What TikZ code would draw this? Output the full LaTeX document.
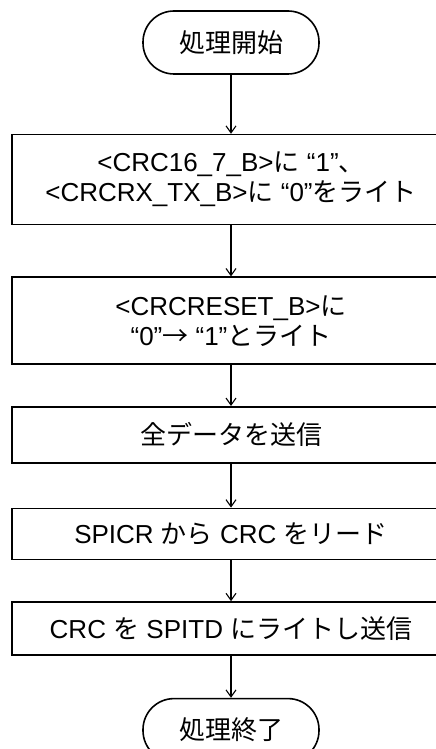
\documentclass[tikz,border=0pt]{standalone}
\usepackage{fontspec}
\setmainfont{Liberation Sans}
\newfontfamily\jpfont{Noto Sans CJK JP}
\newcommand{\jp}[1]{{\jpfont #1}}
\usetikzlibrary{arrows.meta, positioning}

\begin{document}
\begin{tikzpicture}[x=1pt, y=1pt,
        every node/.style={align=center, font=\fontsize{26}{30}\selectfont},
        term/.style={draw, line width=1.6pt, rounded corners=31pt,
                     minimum width=176pt, minimum height=63pt, inner sep=0pt},
        procbox/.style={draw, line width=1.6pt, minimum width=438pt, inner sep=0pt},
        arr/.style={-{Straight Barb[length=7pt, width=10pt]}, line width=1.1pt},
        node distance=41pt
    ]
        \clip (0,0) rectangle (436,749);
        \node[term] (start) at (231,706.5) {\jp{処理開始}};
        \node[procbox, minimum height=90pt, below=59pt of start] (setcrc)
              {<CRC16\_7\_B>\jp{に} “1”\jp{、}\\<CRCRX\_TX\_B>\jp{に} “0”\jp{をライト}};
        \node[procbox, minimum height=87pt, below=51pt of setcrc] (reset)
              {<CRCRESET\_B>\jp{に}\\“0”\jp{→} “1”\jp{とライト}};
        \node[procbox, minimum height=56pt, below=of reset] (send) {\jp{全データを送信}};
        \node[procbox, minimum height=51pt, below=44pt of send] (readcrc)
              {SPICR \jp{から} CRC \jp{をリード}};
        \node[procbox, minimum height=53pt, below=of readcrc] (writecrc)
              {CRC \jp{を} SPITD \jp{にライトし送信}};
        \node[term, below=42pt of writecrc] (stop) {\jp{処理終了}};
        \draw[arr] (start)    -- (setcrc);
        \draw[arr] (setcrc)   -- (reset);
        \draw[arr] (reset)    -- (send);
        \draw[arr] (send)     -- (readcrc);
        \draw[arr] (readcrc)  -- (writecrc);
        \draw[arr] (writecrc) -- (stop);
    \end{tikzpicture}
\end{document}
